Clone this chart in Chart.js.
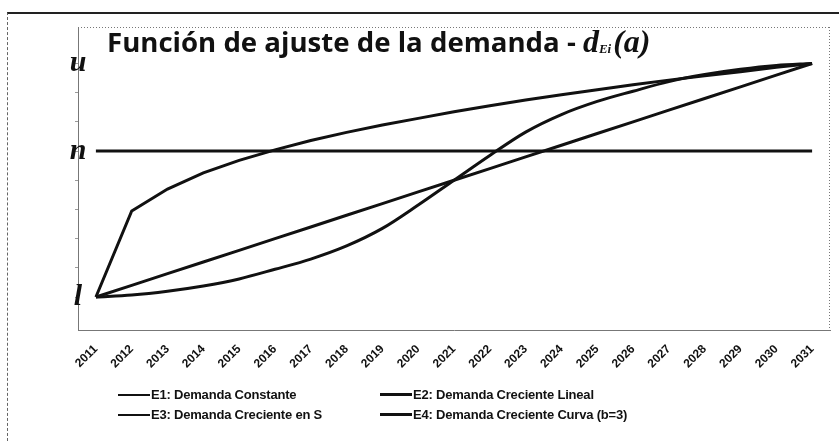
<!DOCTYPE html>
<html>
<head>
<meta charset="utf-8">
<script src="https://cdn.jsdelivr.net/npm/chart.js@4/dist/chart.umd.min.js"></script>
<style>
  html, body { margin: 0; padding: 0; background: #fff; }
  #wrap { position: relative; width: 839px; height: 441px; overflow: hidden; }
  #frame { position: absolute; left: 7px; top: 12px; right: 0; bottom: 0;
           border-top: 2px solid #222; border-left: 1px dashed #666; pointer-events: none; }
  canvas { position: absolute; left: 0; top: 0; }
  .leg { position: absolute; display: flex; align-items: center; white-space: nowrap;
         font: bold 13px "Liberation Sans", Arial, sans-serif; color: #111; letter-spacing: -0.2px; }
  .leg span.ln { display: inline-block; width: 32px; background: #111; margin-right: 1px; }
</style>
</head>
<body>
<div id="wrap">
  <canvas id="c" width="839" height="441"></canvas>
  <div id="frame"></div>
</div>
<script>
// years on the x axis
const years = ['2011','2012','2013','2014','2015','2016','2017','2018','2019','2020',
  '2021','2022','2023','2024','2025','2026','2027','2028','2029','2030','2031'];

// demand level marks on the y axis (l < n < u)
const levelValues = [0, 5, 8];
const levelLabels = ['l', 'n', 'u'];

// E1: constant demand at n
const e1 = [5,5,5,5,5,5,5,5,5,5,5,5,5,5,5,5,5,5,5,5,5];
// E2: linear growth l -> u
const e2 = [0,0.4,0.8,1.2,1.6,2.0,2.4,2.8,3.2,3.6,4.0,4.4,4.8,5.2,5.6,6.0,6.4,6.8,7.2,7.6,8.0];
// E3: S-shaped growth
const e3 = [0,0.07,0.2,0.38,0.62,0.95,1.3,1.75,2.35,3.15,4.0,4.85,5.65,6.25,6.7,7.05,7.38,7.62,7.8,7.93,8.0];
// E4: curved growth (b=3)
const e4 = [0,2.95,3.7,4.25,4.68,5.04,5.36,5.64,5.89,6.12,6.35,6.55,6.75,6.93,7.1,7.27,7.43,7.58,7.72,7.87,8.0];

const seriesNames = [
  'E1: Demanda Constante',
  'E2: Demanda Creciente Lineal',
  'E3: Demanda Creciente en S',
  'E4: Demanda Creciente Curva (b=3)'
];

const ds = (label, data, smooth) => ({
  label, data,
  borderColor: '#111', backgroundColor: '#111',
  borderWidth: 3, pointRadius: 0, fill: false,
  tension: 0,
  cubicInterpolationMode: smooth ? 'monotone' : 'default'
});

// plot frame, level letters and title drawn on top of the canvas
const decor = {
  id: 'decor',
  beforeDatasetsDraw(chart) {
    const { ctx, chartArea: a } = chart;
    ctx.save();
    ctx.setLineDash([1, 2]);
    ctx.strokeStyle = '#777';
    ctx.lineWidth = 1;
    ctx.beginPath();
    ctx.moveTo(a.left, a.top + 0.5); ctx.lineTo(a.right, a.top + 0.5);
    ctx.moveTo(a.right - 0.5, a.top); ctx.lineTo(a.right - 0.5, a.bottom);
    ctx.stroke();
    ctx.restore();
  },
  afterDraw(chart) {
    const { ctx } = chart;
    const y = chart.scales.y;
    ctx.save();
    ctx.fillStyle = '#111';
    ctx.font = 'bold italic 30px "Liberation Serif", "DejaVu Serif", serif';
    ctx.textAlign = 'center';
    ctx.textBaseline = 'middle';
    levelValues.forEach((v, i) => {
      ctx.fillText(levelLabels[i], 78, y.getPixelForValue(v));
    });

    // title: plain part + math part
    const base = 52;
    let x = 107;
    const plain = 'Función de ajuste de la demanda - ';
    ctx.textAlign = 'left';
    ctx.textBaseline = 'alphabetic';
    ctx.font = 'bold 26px "Open Sans", "Liberation Sans", sans-serif';
    const w = ctx.measureText(plain).width;
    const size = 26 * 476 / w;
    ctx.font = 'bold ' + size.toFixed(1) + 'px "Open Sans", "Liberation Sans", sans-serif';
    ctx.fillText(plain, x, base);
    x += ctx.measureText(plain).width;
    ctx.font = 'bold italic 32px "Liberation Serif", "DejaVu Serif", serif';
    ctx.fillText('d', x, base);
    x += ctx.measureText('d').width;
    ctx.font = 'bold italic 13px "Liberation Serif", "DejaVu Serif", serif';
    ctx.fillText('Ei', x, base + 1);
    x += ctx.measureText('Ei').width + 2;
    ctx.font = 'bold italic 32px "Liberation Serif", "DejaVu Serif", serif';
    ctx.fillText('(a)', x, base);
    ctx.restore();
  }
};

new Chart(document.getElementById('c'), {
  type: 'line',
  data: {
    labels: years,
    datasets: [
      ds(seriesNames[0], e1, false),
      ds(seriesNames[1], e2, false),
      ds(seriesNames[2], e3, true),
      ds(seriesNames[3], e4, false)
    ]
  },
  options: {
    responsive: false,
    animation: false,
    layout: { padding: { left: 70, right: 9, top: 27, bottom: 0 } },
    plugins: { legend: { display: false }, tooltip: { enabled: false }, title: { display: false } },
    scales: {
      x: {
        offset: true,
        grid: { display: false },
        border: { display: true, color: '#777', dash: [1, 2] },
        ticks: {
          autoSkip: false, maxRotation: 45, minRotation: 45, padding: 4, color: '#111',
          font: { family: '"Liberation Sans Narrow", "Liberation Sans", sans-serif', size: 12, weight: 'bold' }
        },
        afterFit: s => { s.height = 111; }
      },
      y: {
        min: -1.13, max: 9.25,
        grid: { drawOnChartArea: false, drawTicks: true, tickLength: 3, color: '#999' },
        border: { display: true, color: '#777', dash: [1, 2] },
        ticks: { stepSize: 1, display: false },
        afterBuildTicks: s => { s.ticks = s.ticks.filter(t => Number.isInteger(t.value)); },
        afterFit: s => { s.width = 8; }
      }
    }
  },
  plugins: [decor]
});

// two-column legend under the axis
const legPos = [[118, 395], [380, 395], [118, 415], [380, 415]];
const legThick = [2, 3, 2, 3];
seriesNames.forEach((name, i) => {
  const d = document.createElement('div');
  d.className = 'leg';
  d.style.left = legPos[i][0] + 'px';
  d.style.top = (legPos[i][1] - 8) + 'px';
  d.innerHTML = '<span class="ln" style="height:' + legThick[i] + 'px"></span>' + name;
  document.getElementById('wrap').appendChild(d);
});
</script>
</body>
</html>
